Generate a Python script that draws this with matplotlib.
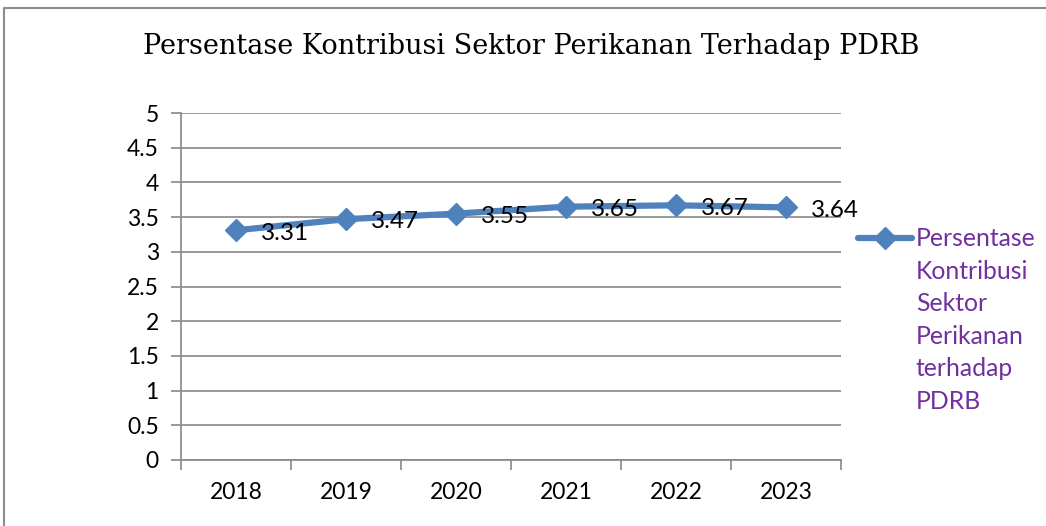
import numpy as np
import matplotlib
matplotlib.use("Agg")
import matplotlib.pyplot as plt
from matplotlib.lines import Line2D

years = ["2018", "2019", "2020", "2021", "2022", "2023"]
values = [3.31, 3.47, 3.55, 3.65, 3.67, 3.64]
y_ticks = [0, 0.5, 1, 1.5, 2, 2.5, 3, 3.5, 4, 4.5, 5]
y_labels = ["0", "0.5", "1", "1.5", "2", "2.5", "3", "3.5", "4", "4.5", "5"]

title = "Persentase Kontribusi Sektor Perikanan Terhadap PDRB"
legend_label = "Persentase\nKontribusi\nSektor\nPerikanan\nterhadap\nPDRB"

LINE = "#4F81BD"
GRID = "#878787"
PURPLE = "#7030A0"
SANS = "Lato"

W, H = 1046, 526
fig = plt.figure(figsize=(W / 100, H / 100), dpi=100)
ax = fig.add_axes([181 / W, 1 - 460 / H, 660 / W, 347 / H])

x = np.arange(len(years))
ax.plot(x, values, color=LINE, lw=4.5, marker="D", ms=11, mec=LINE, mfc=LINE,
        solid_capstyle="round", zorder=3)
for xi, v in zip(x, values):
    ax.annotate(f"{v:.2f}", (xi, v), xytext=(18, -2), textcoords="offset points",
                ha="left", va="center", fontsize=17.5, family=SANS, color="black", zorder=4)

ax.set_xlim(-0.5, len(years) - 0.5)
ax.set_ylim(0, 5)
ax.set_yticks(y_ticks)
ax.set_yticklabels(y_labels)
ax.set_xticks(x)
ax.set_xticklabels(years)
ax.set_xticks(np.arange(-0.5, len(years)), minor=True)
ax.tick_params(axis="x", which="major", length=0, pad=16, labelsize=16.5)
ax.tick_params(axis="x", which="minor", length=7, width=1.2, color=GRID)
ax.tick_params(axis="y", length=7, width=1.2, color=GRID, pad=9, labelsize=16.5)
for lab in ax.get_xticklabels() + ax.get_yticklabels():
    lab.set_family(SANS)

ax.grid(axis="y", color=GRID, lw=1.2)
ax.set_axisbelow(True)
for s in ["top", "right"]:
    ax.spines[s].set_visible(False)
for s in ["left", "bottom"]:
    ax.spines[s].set_color(GRID)
    ax.spines[s].set_linewidth(1.2)

fig.text(143 / W, 1 - 47 / H, title, ha="left", va="center",
         family="DejaVu Serif", fontsize=19.5)

# legend drawn by hand so the marker sits on the first text line
fig.add_artist(Line2D([858 / W, 912 / W], [1 - 238 / H, 1 - 238 / H], color=LINE, lw=4.5,
                      solid_capstyle="round"))
fig.add_artist(Line2D([885 / W], [1 - 238 / H], color=LINE, marker="D", ms=11, lw=0))
fig.text(916 / W, 1 - 227 / H, legend_label, ha="left", va="top", color=PURPLE,
         family=SANS, fontsize=17.8, linespacing=1.5)

# outer chart border
fig.add_artist(Line2D([4 / W, 4 / W, 1], [0, 1 - 8 / H, 1 - 8 / H], color="#8c8c8c", lw=1.5))

fig.savefig("out.png", dpi=100)
